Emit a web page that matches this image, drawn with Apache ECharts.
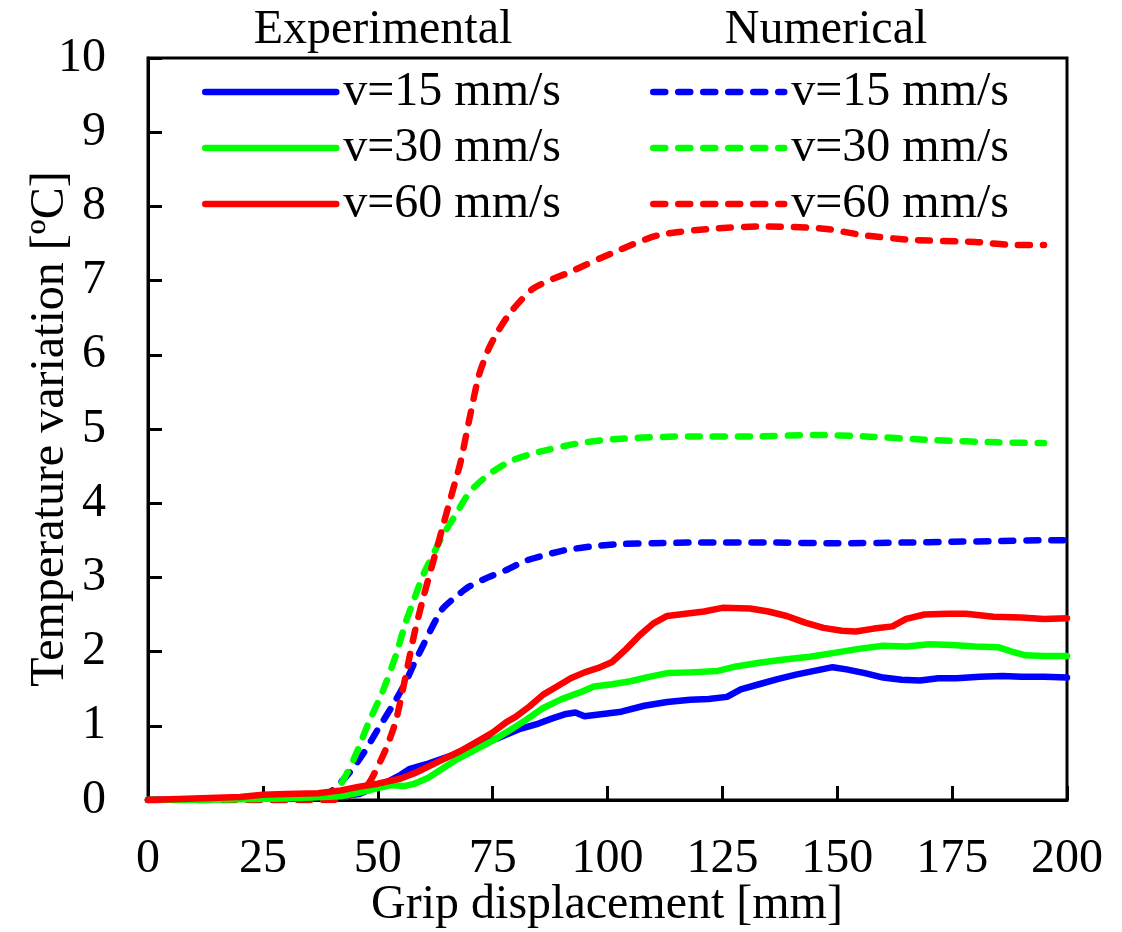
<!DOCTYPE html>
<html>
<head>
<meta charset="utf-8">
<script src="https://cdn.jsdelivr.net/npm/echarts@6/dist/echarts.min.js"></script>
<style>
  html, body { margin: 0; padding: 0; background: #fff; }
  #chart { width: 1122px; height: 932px; }
</style>
</head>
<body>
<div id="chart"></div>
<script>
// x: grip displacement [mm], y: temperature variation [ºC]
const xTicks = [0, 25, 50, 75, 100, 125, 150, 175, 200];
const yTicks = [0, 1, 2, 3, 4, 5, 6, 7, 8, 9, 10];
const speedLabels = ['v=15 mm/s', 'v=30 mm/s', 'v=60 mm/s'];
const colors = ['#0000ff', '#00ff00', '#ff0000'];

// experimental (solid)
const exp15 = [[0,0],[10,0.01],[20,0.03],[30,0.05],[38,0.06],[43,0.06],[46,0.08],[49,0.16],[52,0.24],[55,0.34],[57,0.42],[61,0.49],[66,0.6],[71,0.72],[76,0.83],[81,0.96],[85,1.03],[88,1.1],[91,1.16],[93,1.18],[95,1.13],[99,1.16],[103,1.19],[108,1.27],[113,1.32],[118,1.35],[122,1.36],[126,1.39],[129,1.49],[133,1.56],[137,1.63],[141,1.69],[145,1.74],[149,1.79],[152,1.76],[156,1.71],[160,1.65],[164,1.62],[168,1.61],[172,1.64],[176,1.64],[181,1.66],[186,1.67],[190,1.66],[195,1.66],[200,1.65]];
const exp30 = [[0,0],[10,0],[20,0.01],[30,0.02],[38,0.04],[42,0.05],[46,0.1],[50,0.16],[53,0.2],[56,0.19],[58,0.22],[61,0.3],[64,0.42],[67,0.54],[71,0.67],[75,0.8],[79,0.95],[82,1.07],[86,1.24],[90,1.36],[94,1.45],[97,1.53],[101,1.56],[105,1.6],[109,1.66],[113,1.71],[118,1.72],[124,1.74],[128,1.8],[133,1.85],[138,1.89],[144,1.93],[150,1.99],[155,2.04],[160,2.08],[165,2.07],[170,2.1],[175,2.09],[180,2.07],[185,2.06],[188,2.0],[191,1.95],[195,1.94],[200,1.94]];
const exp60 = [[0,0],[10,0.02],[20,0.04],[25,0.07],[30,0.08],[37,0.09],[42,0.13],[46,0.18],[50,0.22],[55,0.29],[58,0.36],[61,0.45],[64,0.54],[68,0.66],[72,0.8],[75,0.91],[78,1.05],[80,1.12],[83,1.26],[86,1.42],[89,1.53],[92,1.64],[95,1.72],[98,1.78],[101,1.86],[104,2.03],[107,2.22],[110,2.38],[113,2.48],[117,2.51],[121,2.54],[125,2.59],[131,2.58],[135,2.54],[139,2.48],[143,2.39],[147,2.32],[151,2.28],[154,2.27],[158,2.31],[162,2.34],[165,2.44],[169,2.5],[174,2.51],[178,2.51],[184,2.47],[190,2.46],[195,2.44],[200,2.45]];

// numerical (dashed)
const num15 = [[0,0],[20,0],[35,0],[38,0.03],[41,0.18],[44,0.38],[47,0.64],[50,0.95],[53,1.25],[56,1.58],[58,1.85],[60,2.1],[62,2.35],[64,2.57],[67,2.74],[70,2.88],[74,3.0],[78,3.1],[82,3.22],[87,3.31],[91,3.37],[97,3.42],[103,3.45],[110,3.46],[120,3.47],[135,3.47],[150,3.46],[165,3.47],[175,3.48],[185,3.49],[195,3.5],[200,3.5]];
const num30 = [[0,0],[20,0],[36,0],[39,0.05],[42,0.22],[45,0.58],[48,1.04],[51,1.45],[54,1.96],[56,2.38],[58,2.72],[60,3.05],[62,3.3],[64,3.55],[67,3.85],[70,4.15],[74,4.38],[79,4.57],[85,4.69],[94,4.81],[103,4.87],[118,4.9],[132,4.9],[145,4.92],[156,4.9],[171,4.85],[185,4.82],[195,4.81]];
const num60 = [[0,0],[20,0],[40,0],[43,0.04],[46,0.12],[48,0.22],[50,0.45],[52,0.72],[54,1.08],[56,1.65],[58,2.25],[60,2.75],[62,3.2],[64,3.65],[66,4.1],[68,4.55],[70,5.15],[72,5.72],[74,6.06],[76,6.3],[79,6.58],[84,6.9],[92,7.12],[101,7.37],[111,7.61],[123,7.7],[134,7.73],[147,7.7],[156,7.61],[166,7.55],[180,7.52],[189,7.48],[195,7.48]];

const font = 'Liberation Serif';
const dash = [12, 13];
const expNames = ['exp15', 'exp30', 'exp60'];
const numNames = ['num15', 'num30', 'num60'];
const labelOf = {};
expNames.forEach((n, i) => { labelOf[n] = speedLabels[i]; });
numNames.forEach((n, i) => { labelOf[n] = speedLabels[i]; });

function lineSeries(name, data, color, dashed) {
  return {
    name: name,
    type: 'line',
    data: data,
    symbol: 'none',
    smooth: dashed ? 0.25 : false,
    color: color,
    lineStyle: {
      color: color,
      width: 6.5,
      type: dashed ? dash : 'solid',
      cap: 'round',
      join: 'round'
    },
    z: dashed ? 2 : 3
  };
}

const series = [
  lineSeries('num15', num15, colors[0], true),
  lineSeries('num30', num30, colors[1], true),
  lineSeries('num60', num60, colors[2], true),
  lineSeries('exp15', exp15, colors[0], false),
  lineSeries('exp30', exp30, colors[1], false),
  lineSeries('exp60', exp60, colors[2], false)
];

function legendAt(left, names, dashed) {
  return {
    data: names,
    orient: 'vertical',
    left: left,
    top: 68,
    itemWidth: 131,
    itemHeight: 14,
    itemGap: 8,
    padding: 0,
    selectedMode: false,
    formatter: n => labelOf[n],
    itemStyle: { opacity: 0 },
    lineStyle: { width: 6.5, type: dashed ? dash : 'solid', cap: 'round' },
    textStyle: { fontFamily: font, fontSize: 48, color: '#000', padding: [0, 0, 0, 2] }
  };
}

const chart = echarts.init(document.getElementById('chart'), null, { renderer: 'canvas' });
chart.setOption({
  backgroundColor: '#fff',
  animation: false,
  grid: {
    left: 148, right: 55, top: 58, bottom: 132,
    show: true, borderColor: '#000', borderWidth: 3
  },
  legend: [legendAt(202, expNames, false), legendAt(650, numNames, true)],
  xAxis: {
    type: 'value',
    min: xTicks[0], max: xTicks[xTicks.length - 1], interval: 25,
    axisLine: { lineStyle: { color: '#000', width: 3 } },
    axisTick: { inside: true, length: 14, lineStyle: { color: '#000', width: 3 } },
    axisLabel: { margin: 35, fontFamily: font, fontSize: 48, color: '#000' },
    splitLine: { show: false }
  },
  yAxis: {
    type: 'value',
    min: yTicks[0], max: yTicks[yTicks.length - 1], interval: 1,
    axisLine: { show: true, lineStyle: { color: '#000', width: 3 } },
    axisTick: { show: true, inside: true, length: 14, lineStyle: { color: '#000', width: 3 } },
    axisLabel: { margin: 42, fontFamily: font, fontSize: 48, color: '#000' },
    splitLine: { show: false }
  },
  graphic: [
    { type: 'text', x: 383, y: 30, style: { text: 'Experimental', font: '48px "Liberation Serif"', fill: '#000', align: 'center', verticalAlign: 'middle' } },
    { type: 'text', x: 826, y: 30, style: { text: 'Numerical', font: '48px "Liberation Serif"', fill: '#000', align: 'center', verticalAlign: 'middle' } },
    { type: 'text', x: 607, y: 905, style: { text: 'Grip displacement [mm]', font: '48px "Liberation Serif"', fill: '#000', align: 'center', verticalAlign: 'middle' } },
    { type: 'text', x: 50, y: 429, rotation: Math.PI / 2, style: { text: 'Temperature variation [ºC]', font: '48px "Liberation Serif"', fill: '#000', align: 'center', verticalAlign: 'middle' } }
  ],
  series: series
});
</script>
</body>
</html>
